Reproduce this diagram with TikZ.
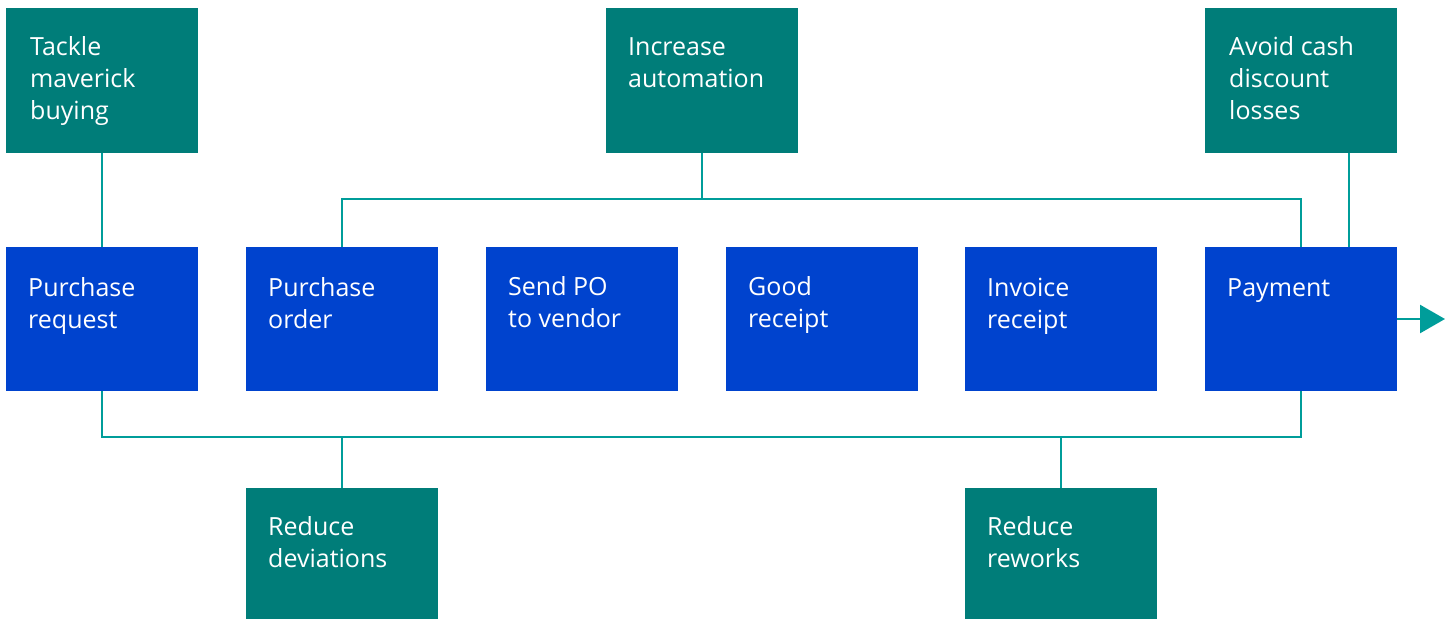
\documentclass[tikz,border=0pt]{standalone}
\usepackage{fontspec}
\setmainfont{Open Sans}
\usetikzlibrary{arrows.meta}
\definecolor{boxgreen}{HTML}{007D79}
\definecolor{boxblue}{HTML}{0043CE}
\definecolor{linkteal}{HTML}{009D9A}
\begin{document}
\begin{tikzpicture}[x=1pt,y=-1pt,
  greenbox/.style={fill=boxgreen,draw=none,minimum width=192pt,minimum height=145pt,anchor=north west,inner sep=0pt,outer sep=0pt},
  bluebox/.style={fill=boxblue,draw=none,minimum width=192pt,minimum height=144pt,anchor=north west,inner sep=0pt,outer sep=0pt},
  lowbox/.style={fill=boxgreen,draw=none,minimum width=192pt,minimum height=131pt,anchor=north west,inner sep=0pt,outer sep=0pt},
  boxtext/.style={text=white,anchor=base west,inner sep=0pt,align=left,font=\fontsize{25}{32}\selectfont},
  link/.style={draw=linkteal,line width=2.6pt}]
\useasboundingbox (0,0) rectangle (1449,619);
% top goals
\node[greenbox] (g1) at (6,8) {};
\node[greenbox] (g2) at (606,8) {};
\node[greenbox] (g3) at (1205,8) {};
% process steps
\node[bluebox] (b1) at (6,247) {};
\node[bluebox] (b2) at (246,247) {};
\node[bluebox] (b3) at (486,247) {};
\node[bluebox] (b4) at (726,247) {};
\node[bluebox] (b5) at (965,247) {};
\node[bluebox] (b6) at (1205,247) {};
% bottom goals
\node[lowbox] (l1) at (246,488) {};
\node[lowbox] (l2) at (965,488) {};
% texts (anchor = baseline of the last line)
\node[boxtext] (tg1) at ([shift={(24,111)}]g1.north west) {Tackle\\maverick\\buying};
\node[boxtext] (tg2) at ([shift={(22,79)}]g2.north west) {Increase\\automation};
\node[boxtext] (tg3) at ([shift={(24,111)}]g3.north west) {Avoid cash\\discount\\losses};
\node[boxtext] (tb1) at ([shift={(22,81)}]b1.north west) {Purchase\\request};
\node[boxtext] (tb2) at ([shift={(22,81)}]b2.north west) {Purchase\\order};
\node[boxtext] (tb3) at ([shift={(22,80)}]b3.north west) {Send PO\\to vendor};
\node[boxtext] (tb4) at ([shift={(22,80)}]b4.north west) {Good\\receipt};
\node[boxtext] (tb5) at ([shift={(22,81)}]b5.north west) {Invoice\\receipt};
\node[boxtext] (tb6) at ([shift={(22,49)}]b6.north west) {Payment};
\node[boxtext] (tl1) at ([shift={(22,79)}]l1.north west) {Reduce\\deviations};
\node[boxtext] (tl2) at ([shift={(22,79)}]l2.north west) {Reduce\\reworks};
% junction coordinates
\coordinate (jt) at (g2.south |- 0,199);
\coordinate (jtl) at (b2.north |- 0,199);
\coordinate (jtr) at (b6.north |- 0,199);
\coordinate (jbl) at (b1.south |- 0,437);
\coordinate (jbr) at (b6.south |- 0,437);
\coordinate (jb1) at (l1.north |- 0,437);
\coordinate (jb2) at (l2.north |- 0,437);
\coordinate (arrowend) at (1445,319);
% connectors
\draw[link] (g1.south) -- (b1.north);
\draw[link] (g2.south) -- (jt);
\draw[link] (b2.north) -- (jtl) -- (jtr) -- (b6.north);
\draw[link] (g3.south -| 1349,0) -- (b6.north -| 1349,0);
\draw[link] (b1.south) -- (jbl) -- (jbr) -- (b6.south);
\draw[link] (jb1) -- (l1.north);
\draw[link] (jb2) -- (l2.north);
\draw[link,-{Triangle[length=25pt,width=28pt]}] (b6.east) -- (arrowend);
\end{tikzpicture}
\end{document}
